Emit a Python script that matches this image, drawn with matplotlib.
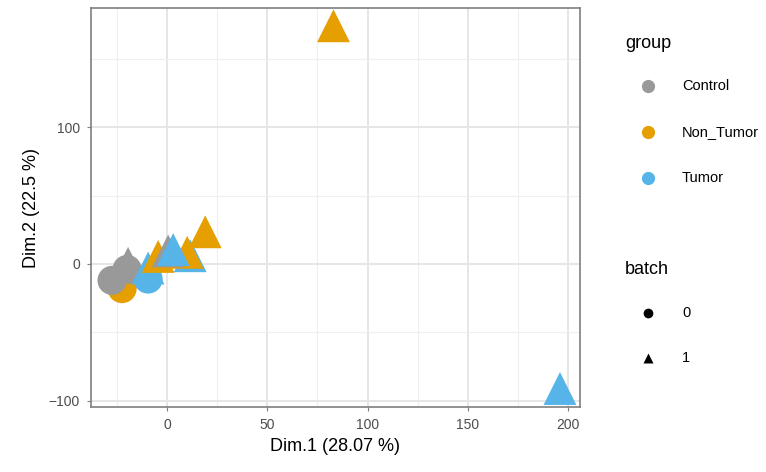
import matplotlib
matplotlib.use("Agg")
import matplotlib.pyplot as plt
from matplotlib.ticker import MultipleLocator

# PCA coordinates
groups = ["Control", "Non_Tumor", "Tumor"]
colors = {"Control": "#999999", "Non_Tumor": "#E69F00", "Tumor": "#56B4E9"}

pt_group = ["Non_Tumor", "Control", "Control", "Tumor", "Control",
            "Tumor", "Tumor", "Non_Tumor", "Non_Tumor", "Control",
            "Tumor", "Non_Tumor", "Non_Tumor", "Tumor"]
pt_batch = [0, 0, 0, 0, 1,
            1, 1, 1, 1, 1,
            1, 1, 1, 1]
dim1 = [-22.5, -27.5, -20.0, -9.5, -19.5,
        -9.5, 11.5, -4.5, 10.0, 0.5,
        3.0, 19.0, 83.0, 196.0]
dim2 = [-18.0, -12.0, -4.0, -11.0, 0.5,
        -3.0, 6.0, 5.5, 8.5, 9.5,
        10.5, 23.5, 174.0, -91.0]

plt.rcParams['font.family'] = ['Liberation Sans', 'DejaVu Sans']
fig = plt.figure(figsize=(7.66, 4.72), dpi=100)
ax = fig.add_axes([91/766, 65/472, 489/766, 399/472])

for g, b, x, y in zip(pt_group, pt_batch, dim1, dim2):
    m = "o" if b == 0 else "^"
    s = 440 if b == 0 else 560
    ax.scatter(x, y, s=s, marker=m, color=colors[g], edgecolors="none", zorder=3)

ax.set_xlim(-38, 206)
ax.set_ylim(-104.5, 187)
ax.xaxis.set_major_locator(MultipleLocator(50))
ax.xaxis.set_minor_locator(MultipleLocator(25))
ax.yaxis.set_major_locator(MultipleLocator(100))
ax.yaxis.set_minor_locator(MultipleLocator(50))
ax.grid(which="major", color="#e6e6e6", lw=1.4, zorder=0)
ax.grid(which="minor", color="#efefef", lw=0.8, zorder=0)
ax.set_axisbelow(True)
for sp in ax.spines.values():
    sp.set_color("#7f7f7f")
    sp.set_linewidth(1.2)
ax.tick_params(which="major", length=3, color="#7f7f7f", labelsize=10,
               labelcolor="#4d4d4d", pad=5)
ax.tick_params(which="minor", length=0)
ax.set_xlabel("Dim.1 (28.07 %)", fontsize=13, labelpad=4)
ax.set_ylabel("Dim.2 (22.5 %)", fontsize=13, labelpad=6)

# legends drawn by hand in figure pixel coordinates
def px(x, y):
    return x / 766, 1 - y / 472

fig.text(*px(625, 44), "group", fontsize=13, va="center", ha="left")
for i, g in enumerate(groups):
    y = 86 + i * 46
    fig.lines.append(plt.Line2D([648/766], [1 - y/472], marker="o", ms=9.5,
                                color=colors[g], mec="none", transform=fig.transFigure))
    fig.text(*px(682, y), g, fontsize=10.5, va="center", ha="left")

fig.text(*px(625, 270), "batch", fontsize=13, va="center", ha="left")
for i, (lab, m) in enumerate([("0", "o"), ("1", "^")]):
    y = 313 + i * 45
    fig.lines.append(plt.Line2D([648/766], [1 - y/472], marker=m, ms=7,
                                color="black", mec="none", transform=fig.transFigure))
    fig.text(*px(682, y), lab, fontsize=10.5, va="center", ha="left")

fig.savefig("out.png", dpi=100)
